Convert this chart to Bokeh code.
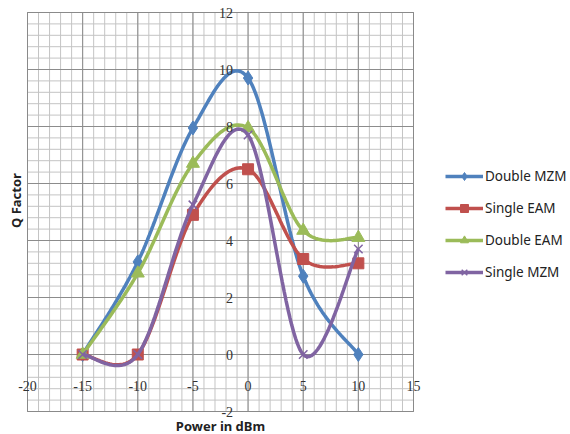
import numpy as np
from bokeh.plotting import figure
from bokeh.models import (Legend, LegendItem, LabelSet, Label, ColumnDataSource, Range1d)
from bokeh.embed import file_html
from bokeh.resources import INLINE

# ---- data ----
power = [-15, -10, -5, 0, 5, 10]
double_mzm = [0, 3.25, 7.95, 9.7, 2.75, 0]
single_eam = [0, 0, 4.9, 6.5, 3.35, 3.2]
double_eam = [0, 2.85, 6.7, 7.95, 4.35, 4.1]
single_mzm = [0, 0, 5.25, 7.7, 0, 3.7]
series_names = ["Double MZM", "Single EAM", "Double EAM", "Single MZM"]
x_ticks = [-20, -15, -10, -5, 0, 5, 10, 15]
y_ticks = [-2, 0, 2, 4, 6, 8, 10, 12]

colors = ["#4F81BD", "#C0504D", "#9BBB59", "#8064A2"]
markers = ["diamond", "square", "triangle", "x"]
msizes = [14, 11, 13, 12]
FONT = "Noto Sans"


def smooth(xs, ys, n=30):
    """Excel-like smoothed curve (Catmull-Rom Bezier) through the points."""
    pts = np.array(list(zip(xs, ys)), dtype=float)
    out = []
    m = len(pts)
    for i in range(m - 1):
        p0 = pts[i - 1] if i > 0 else pts[i]
        p1 = pts[i]
        p2 = pts[i + 1]
        p3 = pts[i + 2] if i + 2 < m else pts[i + 1]
        c1 = p1 + (p2 - p0) / 6.0
        c2 = p2 - (p3 - p1) / 6.0
        t = np.linspace(0, 1, n)[:, None]
        seg = ((1 - t) ** 3) * p1 + 3 * ((1 - t) ** 2) * t * c1 + 3 * (1 - t) * t ** 2 * c2 + t ** 3 * p2
        out.append(seg if i == 0 else seg[1:])
    out = np.vstack(out)
    return out[:, 0], out[:, 1]


# layout (figure pixels): plot box inside a full-canvas frame
W, H = 570, 434
box_l, box_r, box_t, box_b = 27, 413, 12, 411
ppx = (box_r - box_l) / (x_ticks[-1] - x_ticks[0])
ppy = (box_b - box_t) / (y_ticks[-1] - y_ticks[0])
xr = Range1d(x_ticks[0] - box_l / ppx, x_ticks[-1] + (W - box_r) / ppx)
yr = Range1d(y_ticks[0] - (H - box_b) / ppy, y_ticks[-1] + box_t / ppy)

p = figure(width=W, height=H, output_backend="svg", toolbar_location=None,
           x_range=xr, y_range=yr,
           min_border_left=0, min_border_right=0, min_border_top=0, min_border_bottom=0)
p.xaxis.visible = False
p.yaxis.visible = False
p.xgrid.visible = False
p.ygrid.visible = False
p.outline_line_color = None
p.background_fill_color = "white"
p.border_fill_color = "white"

# grid (minor then major), bounded to the plot box
x0, x1, y0, y1 = x_ticks[0], x_ticks[-1], y_ticks[0], y_ticks[-1]
xminor = np.arange(x0, x1 + 1e-9, 1.0)
yminor = np.linspace(y0, y1, (len(y_ticks) - 1) * 5 + 1)
p.segment(x0=xminor, x1=xminor, y0=y0, y1=y1, line_color="#c4c4c4", line_width=1)
p.segment(x0=x0, x1=x1, y0=yminor, y1=yminor, line_color="#c4c4c4", line_width=1)
p.segment(x0=x_ticks, x1=x_ticks, y0=y0, y1=y1, line_color="#8c8c8c", line_width=1)
p.segment(x0=x0, x1=x1, y0=y_ticks, y1=y_ticks, line_color="#8c8c8c", line_width=1)
p.quad(left=x0, right=x1, bottom=y0, top=y1, fill_alpha=0, line_color="#8a8a8a", line_width=1)

items = []
for name, ys, c, mk, ms in zip(series_names, [double_mzm, single_eam, double_eam, single_mzm],
                               colors, markers, msizes):
    sx, sy = smooth(power, ys)
    lr = p.line(sx, sy, line_color=c, line_width=3.5)
    if mk == "x":
        sr = p.scatter(power, ys, marker=mk, size=ms, line_color=c, line_width=1.5)
    else:
        sr = p.scatter(power, ys, marker=mk, size=ms, fill_color=c, line_color=c)
    items.append(LegendItem(label=name, renderers=[lr, sr]))

legend = Legend(items=items, location=(445, 152), orientation="vertical",
                glyph_width=38, glyph_height=20, label_height=20, spacing=12,
                label_standoff=2, padding=0, margin=0,
                border_line_alpha=0, background_fill_alpha=0,
                label_text_font=FONT, label_text_font_size="13.5px",
                label_text_color="#222222")
p.add_layout(legend, "center")

# tick labels
xsrc = ColumnDataSource(dict(x=x_ticks, y=[0] * len(x_ticks), t=[str(v) for v in x_ticks]))
ysrc = ColumnDataSource(dict(x=[0] * len(y_ticks), y=y_ticks, t=[str(v) for v in y_ticks]))
p.add_layout(LabelSet(x="x", y="y", text="t", source=xsrc, text_align="center",
                      text_baseline="middle", y_offset=-31, text_font=FONT,
                      text_font_size="14px", text_color="#333333"))
p.add_layout(LabelSet(x="x", y="y", text="t", source=ysrc, text_align="right",
                      text_baseline="middle", x_offset=-15, text_font=FONT,
                      text_font_size="14px", text_color="#333333"))

# axis titles
p.add_layout(Label(x=(x0 + x1) / 2, y=y0, y_offset=-14, text="Power in dBm", text_align="center",
                   text_baseline="middle", text_font=FONT, text_font_style="bold",
                   text_font_size="13px", text_color="#222222"))
p.add_layout(Label(x=x0, y=5.4, x_offset=-12, text="Q Factor", angle=np.pi / 2,
                   text_align="center", text_baseline="middle", text_font=FONT,
                   text_font_style="bold", text_font_size="13px", text_color="#222222"))

open("out.html", "w").write(file_html(p, INLINE))
